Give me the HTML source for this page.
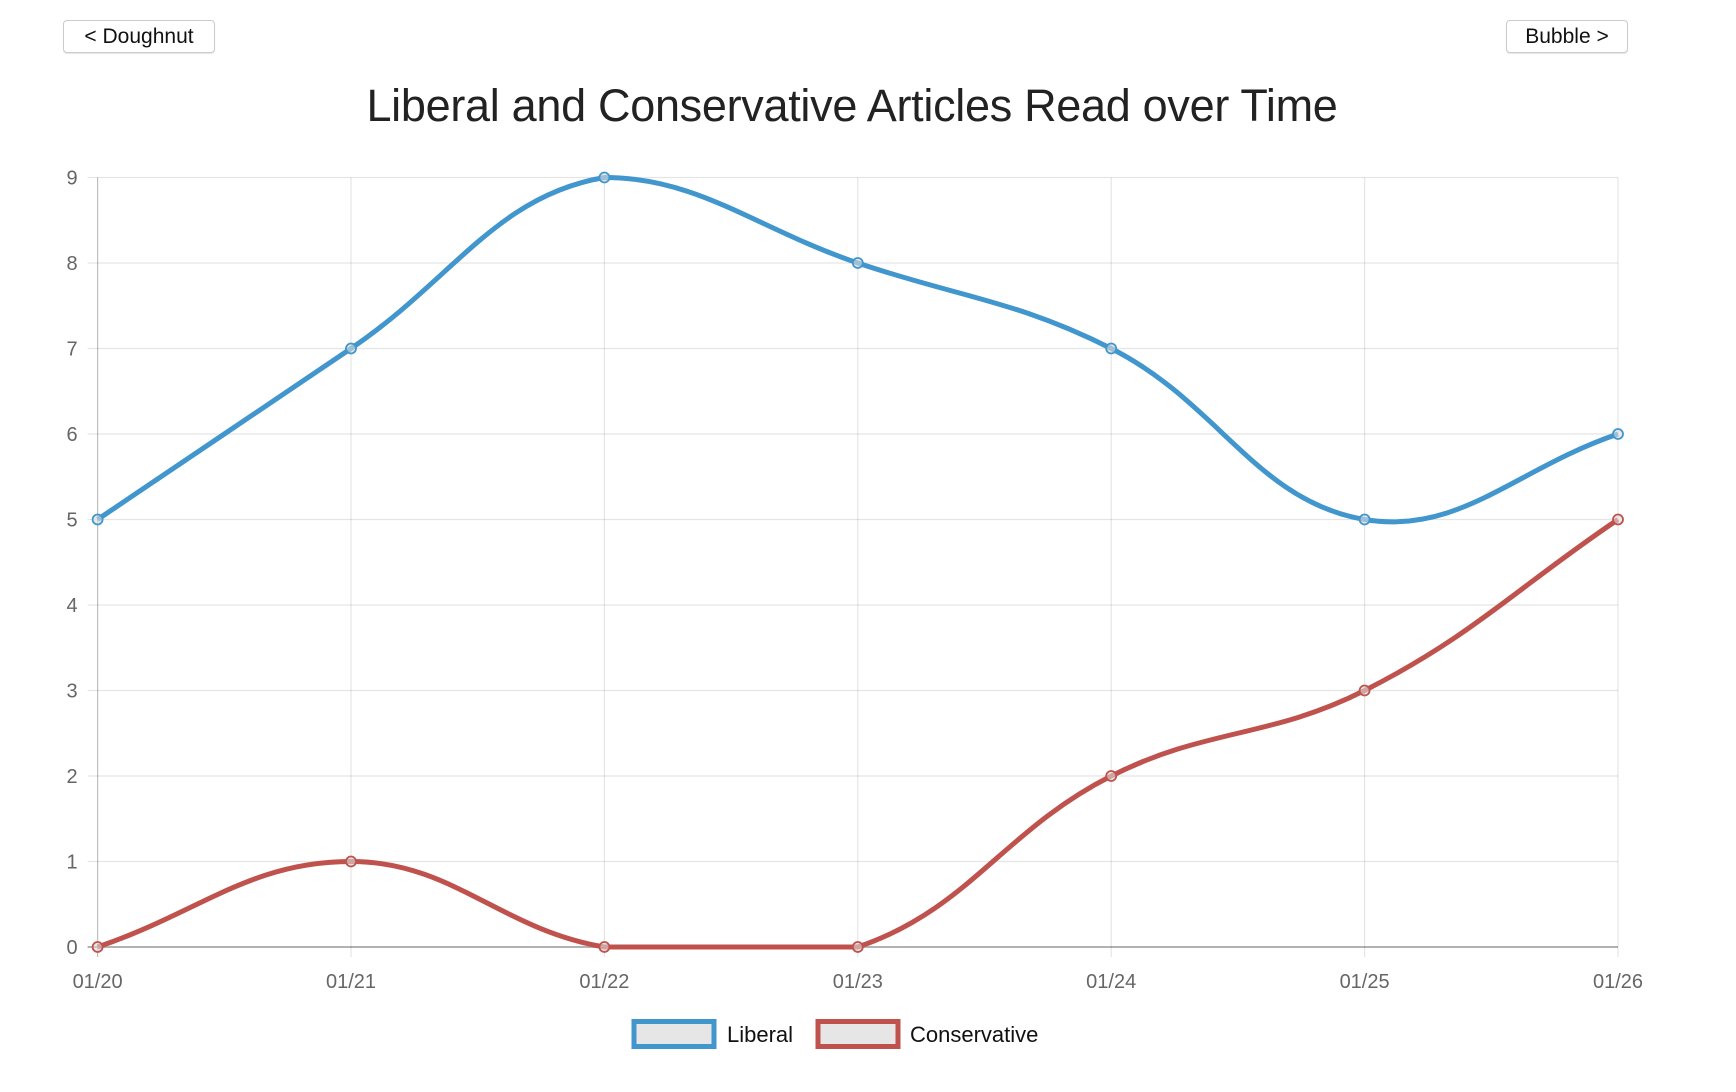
<!DOCTYPE html>
<html><head><meta charset="utf-8"><style>
body{margin:0;background:#fff;width:1736px;height:1092px;overflow:hidden;font-family:"Liberation Sans",sans-serif;position:relative}
.btn{position:absolute;top:20px;height:31px;border:1px solid #ccc;border-radius:4px;background:#fff;font-size:21px;line-height:31px;text-align:center;color:#111;box-shadow:0 1px 1px rgba(0,0,0,.1)}
</style></head><body>
<div class="btn" style="left:63px;width:150px">&lt; Doughnut</div>
<div class="btn" style="left:1506px;width:120px">Bubble &gt;</div>
<svg id="c" width="1736" height="1092" style="position:absolute;left:0;top:0">
<text x="852" y="121" text-anchor="middle" font-size="45" fill="#222" style="font-family:'Liberation Sans',sans-serif;letter-spacing:-0.3px">Liberal and Conservative Articles Read over Time</text>
</svg>
<script>
const categories=["01/20","01/21","01/22","01/23","01/24","01/25","01/26"];
const liberal=[5,7,9,8,7,5,6];
const conservative=[0,1,0,0,2,3,5];
const yTicks=[0,1,2,3,4,5,6,7,8,9];
const L=97.6,R=1618,T=177.5,B=947,YMAX=9;
const svg=document.getElementById('c');
const NS='http://www.w3.org/2000/svg';
function X(i){return L+(R-L)*i/(categories.length-1);}
function Y(v){return B-(B-T)*v/YMAX;}
function mk(t,a){const e=document.createElementNS(NS,t);for(const k in a)e.setAttribute(k,a[k]);svg.appendChild(e);return e;}
yTicks.forEach(v=>{
 const g=mk('line',{x1:L-10,x2:R,y1:Y(v),y2:Y(v),stroke:v===0?'rgba(0,0,0,0.3)':'rgba(0,0,0,0.1)','stroke-width':v===0?2:1.2});
 
 const t=mk('text',{x:L-20,y:Y(v)+7,'text-anchor':'end','font-size':20,fill:'#666'});t.textContent=v;
 
});
categories.forEach((c,i)=>{
 const g=mk('line',{x1:X(i),x2:X(i),y1:T,y2:B+10,stroke:i===0?'rgba(0,0,0,0.25)':'rgba(0,0,0,0.1)','stroke-width':1.2});
 
 const t=mk('text',{x:X(i),y:988,'text-anchor':'middle','font-size':20,fill:'#666'});t.textContent=c;
 
});
function series(vals,color,name){
 const pts=vals.map((v,i)=>({x:X(i),y:Y(v)}));
 const cp=pts.map((p,i)=>{
  const pr=pts[Math.max(0,i-1)],nx=pts[Math.min(pts.length-1,i+1)];
  const d01=Math.hypot(p.x-pr.x,p.y-pr.y),d12=Math.hypot(nx.x-p.x,nx.y-p.y);
  let fa=d01/(d01+d12)||0,fb=d12/(d01+d12)||0;const t=0.4;fa*=t;fb*=t;
  const c={px:p.x-fa*(nx.x-pr.x),py:p.y-fa*(nx.y-pr.y),nx:p.x+fb*(nx.x-pr.x),ny:p.y+fb*(nx.y-pr.y)};
  c.py=Math.min(B,Math.max(T,c.py));c.ny=Math.min(B,Math.max(T,c.ny));return c;});
 let d='M'+pts[0].x+','+pts[0].y;
 for(let i=1;i<pts.length;i++)d+=` C${cp[i-1].nx},${cp[i-1].ny} ${cp[i].px},${cp[i].py} ${pts[i].x},${pts[i].y}`;
 const p=mk('path',{d:d,fill:'none',stroke:color,'stroke-width':5});
 
 pts.forEach(q=>{const c=mk('circle',{cx:q.x,cy:q.y,r:5,fill:'rgba(220,220,220,0.6)',stroke:color,'stroke-width':1.8});
  });
}
series(liberal,'#4196cd','liberal');
series(conservative,'#c0524d','conservative');
[[634,'#4196cd','Liberal',727,'legend-liberal'],[818,'#c0524d','Conservative',910,'legend-conservative']].forEach(a=>{
 const r=mk('rect',{x:a[0],y:1021.5,width:80,height:25,fill:'#e6e6e6',stroke:a[1],'stroke-width':5});
 
 const t=mk('text',{x:a[3],y:1042,'font-size':22,fill:'#111'});t.textContent=a[2];
 
});
</script>
</body></html>
